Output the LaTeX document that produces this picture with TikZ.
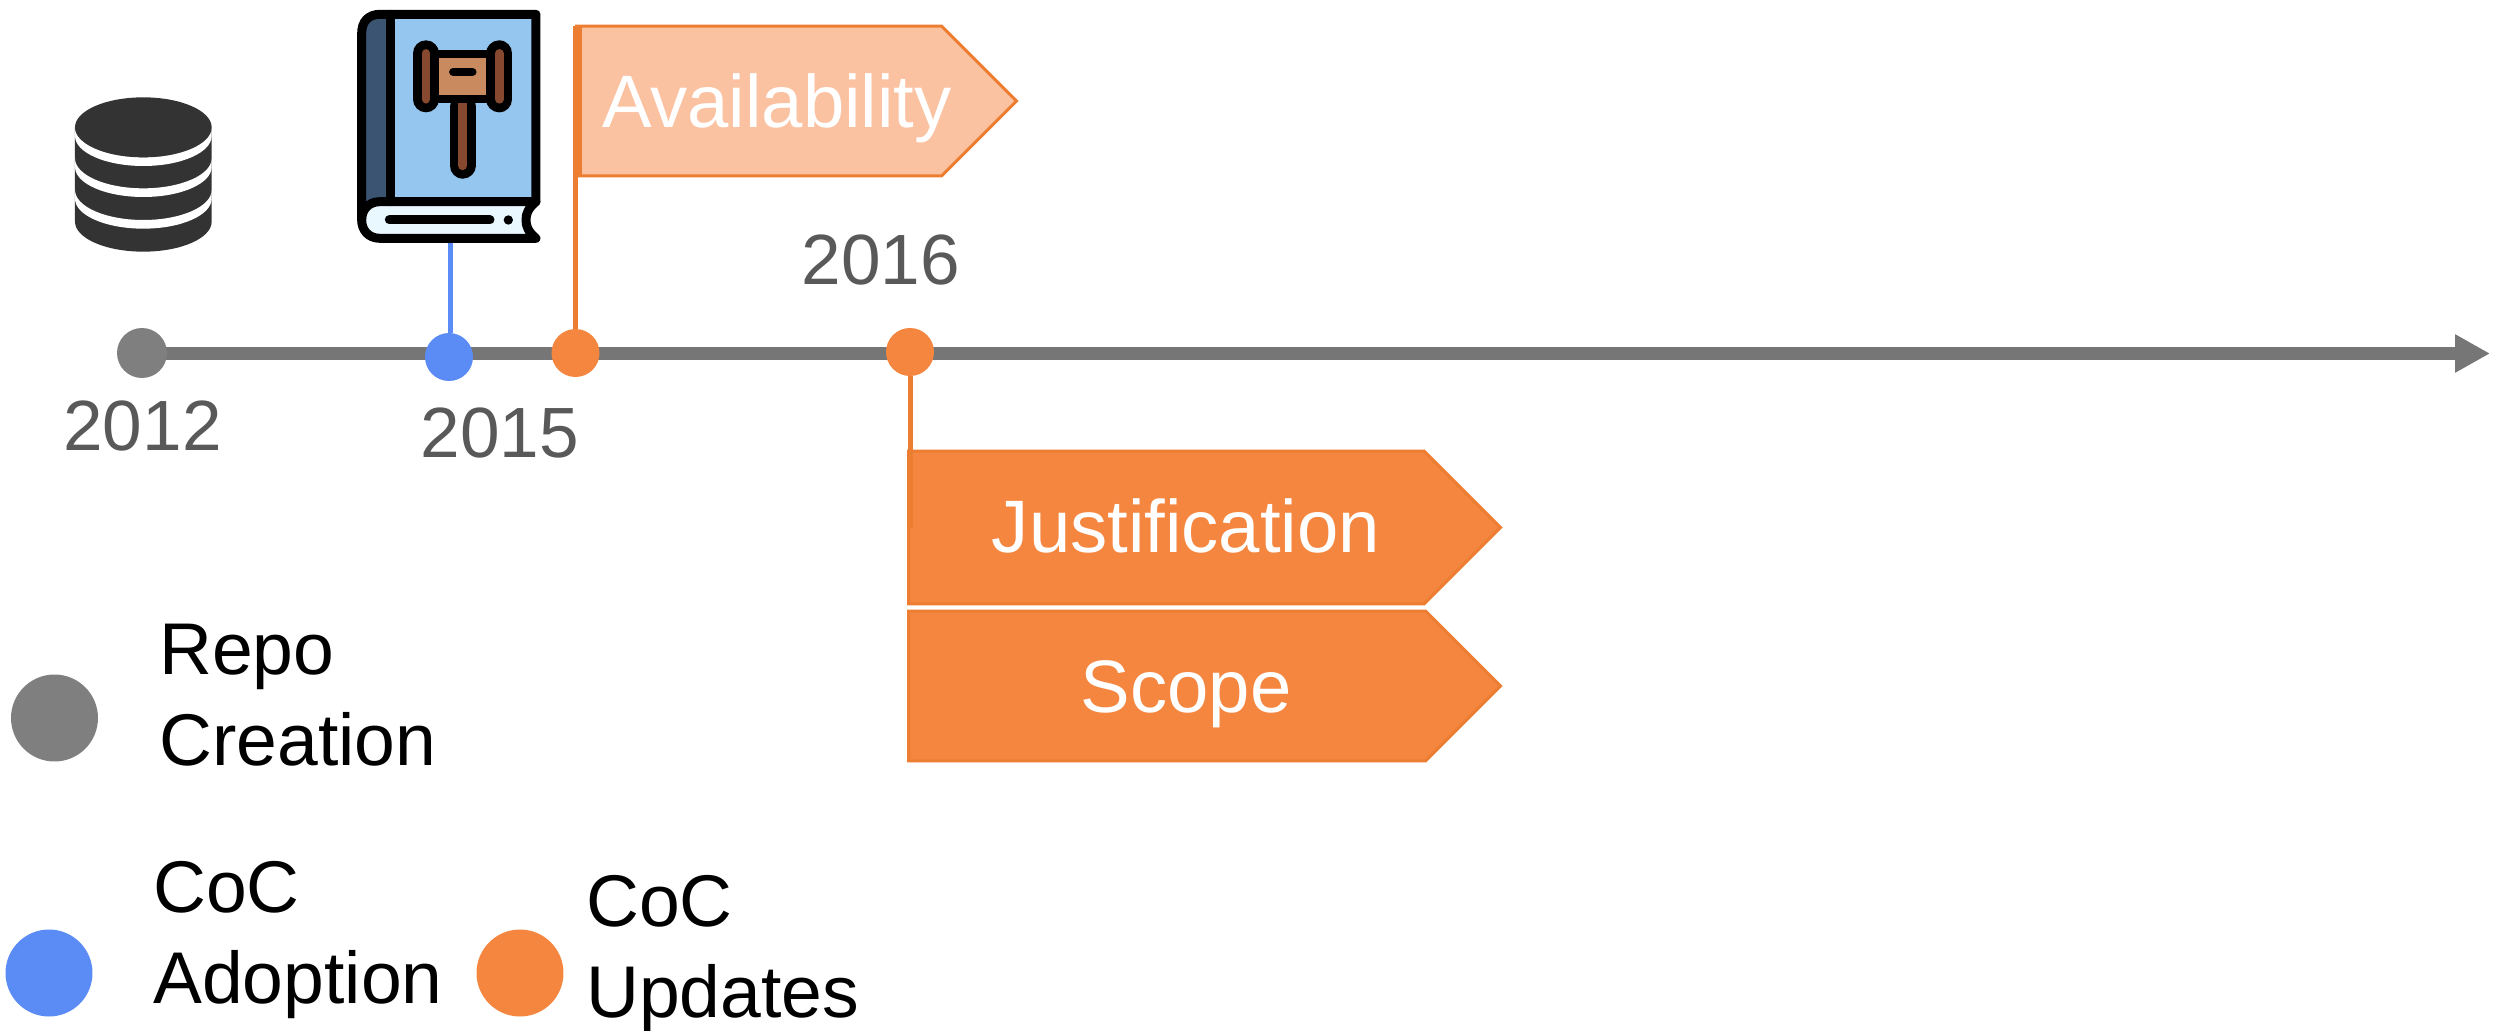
\documentclass[tikz,border=0pt]{standalone}
\usepackage{fontspec}
\setmainfont{Liberation Sans}
\usetikzlibrary{arrows.meta,shapes.symbols,backgrounds}
\definecolor{axisgray}{HTML}{767676}
\definecolor{dotgray}{HTML}{7F7F7F}
\definecolor{yeargray}{HTML}{595959}
\definecolor{dotblue}{HTML}{5B8CF5}
\definecolor{dotorange}{HTML}{F58640}
\definecolor{edgeorange}{HTML}{ED7D31}
\definecolor{peach}{HTML}{FBC2A2}
\definecolor{dbdark}{HTML}{333333}
\definecolor{bookblue}{HTML}{95C6EF}
\definecolor{bookspine}{HTML}{3B5472}
\definecolor{bookbrown}{HTML}{86482F}
\definecolor{bookhead}{HTML}{C98A60}
\definecolor{bookpale}{HTML}{E9F8FF}
\tikzset{
  tldot/.style={circle,inner sep=0pt,minimum size=0.96cm,fill=#1},
  legdot/.style={circle,inner sep=0pt,minimum size=1.74cm,fill=#1},
  yearlabel/.style={inner sep=0pt,text=yeargray,font=\fontsize{40.5}{47}\selectfont},
  legendtext/.style={inner sep=0pt,anchor=west,align=left,text=black,font=\fontsize{41.7}{51.5}\selectfont},
  flagbox/.style={signal,signal to=east,signal pointer angle=90,draw=edgeorange,line width=0.06cm,inner sep=0pt,anchor=west},
  flagtext/.style={inner sep=0pt,anchor=base,text=white,font=\fontsize{42.3}{50}\selectfont},
  bk/.style={draw=black,line width=1.8mm,line join=round,line cap=round},
}
\begin{document}
\begin{tikzpicture}[x=0.02cm,y=-0.02cm]
\useasboundingbox (0,0) rectangle (2496,1031);
% timeline dots
\node[tldot=dotgray,minimum size=1cm] (d2012) at (142,353) {};
\node[tldot=dotblue] (dadopt) at (449,357) {};
\node[tldot=dotorange] (dupd1) at (575.5,353) {};
\node[tldot=dotorange] (dupd2) at (910,352) {};
\coordinate (axisend) at (2490,353.5);
\begin{scope}[on background layer]
  \draw[axisgray,line width=0.26cm,-{Triangle[length=0.7cm,width=0.72cm]}] (d2012.center |- axisend) -- (axisend);
\end{scope}
% year labels
\node[yearlabel] (y2012) at (142.5,426) {2012};
\node[yearlabel] (y2015) at (500,433) {2015};
\node[yearlabel] (y2016) at (881,260) {2016};
% flags
\node[flagbox,fill=peach,minimum width=8.8cm,minimum height=3cm] (avail) at (575,101) {};
\node[flagbox,fill=dotorange,minimum width=11.84cm,minimum height=3.06cm] (just) at (907,527.5) {};
\node[flagbox,fill=dotorange,minimum width=11.84cm,minimum height=3cm] (scope) at (907,686) {};
\node[flagtext] (tavail) at (777,127) {Availability};
\node[flagtext] (tjust) at (1186,552.5) {Justification};
\node[flagtext] (tscope) at (1186,712) {Scope};
% connectors
\coordinate (availtop) at (577.5,26);
\coordinate (availbot) at (577.5,176);
\draw[edgeorange,line width=0.18cm] (availtop) -- (availbot);
\draw[edgeorange,line width=0.11cm] (dupd1) -- (dupd1 |- availbot);
\draw[edgeorange,line width=0.1cm] (dupd2) -- (dupd2 |- just.west);
% book
\coordinate (bookbase) at (450.5,243);
\draw[dotblue,line width=0.1cm] (dadopt.north -| bookbase) -- (bookbase);
\begin{scope}[shift={(340,0)},x=0.00667cm,y=-0.00667cm]
  \fill[bookblue] (150,43) rectangle (588,605);
  \fill[bookspine] (150,43) -- (120,43) .. controls (85,43) and (65,65) .. (65,100) -- (65,650) -- (150,605) -- cycle;
  \fill[bookpale] (588,605) -- (120,605) .. controls (85,605) and (65,630) .. (65,660) .. controls (65,690) and (85,715) .. (120,715) -- (588,715) .. controls (565,695) and (558,680) .. (558,660) .. controls (558,640) and (565,625) .. (588,605) -- cycle;
  \draw[bk] (150,43) -- (150,605);
  \draw[bk] (65,660) .. controls (65,630) and (85,605) .. (120,605) -- (588,605);
  \draw[bk] (588,605) -- (588,43) -- (120,43) .. controls (85,43) and (65,65) .. (65,100) -- (65,660) .. controls (65,690) and (85,715) .. (120,715) -- (588,715) .. controls (565,695) and (558,680) .. (558,660) .. controls (558,640) and (565,625) .. (588,605);
  \draw[black,line width=1.8mm,line cap=round] (148,660) -- (450,660);
  \fill[black] (505,660) circle (14);
  % gavel
  \draw[black,line width=0.52cm,line cap=round] (368,320) -- (368,497);
  \draw[bookbrown,line width=0.18cm,line cap=round] (368,310) -- (368,497);
  \fill[black] (280,150) rectangle (450,310);
  \fill[bookhead] (297,175) rectangle (437,285);
  \draw[black,line width=0.17cm,line cap=round] (340,216) -- (397,216);
  \foreach \hx in {258,478} {
    \draw[black,line width=0.52cm,line cap=round] (\hx,160) -- (\hx,298);
    \draw[bookbrown,line width=0.17cm,line cap=round] (\hx,160) -- (\hx,298);
  }
\end{scope}
% database
\begin{scope}[shift={(50,80)},x=0.00667cm,y=-0.00667cm]
  \fill[dbdark] (75,425) arc[start angle=180,end angle=0,x radius=205,y radius=90] -- (485,142) arc[start angle=0,end angle=180,x radius=205,y radius=90] -- cycle;
  \foreach \yy in {142,235,330} {
    \fill[white] (75,\yy) arc[start angle=180,end angle=0,x radius=205,y radius=90] -- (485,\yy+26) arc[start angle=0,end angle=180,x radius=205,y radius=90] -- cycle;
  }
  \fill[dbdark] (280,142) ellipse [x radius=205,y radius=90];
\end{scope}
% legend
\node[legdot=dotgray] (lgray) at (54.5,718) {};
\node[legdot=dotblue] (lblue) at (49,973) {};
\node[legdot=dotorange] (lorange) at (520,973) {};
\node[legendtext] (trepo) at (159,695) {Repo\\Creation};
\node[legendtext] (tadopt) at (153,940) {CoC\\Adoption};
\node[legendtext] (tupd) at (586,954) {CoC\\Updates};
\end{tikzpicture}
\end{document}
